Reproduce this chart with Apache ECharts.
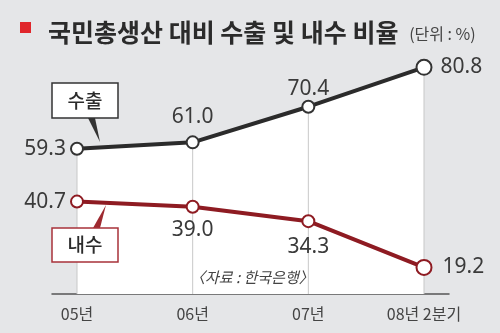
<!DOCTYPE html>
<html>
<head>
<meta charset="utf-8">
<script src="https://cdn.jsdelivr.net/npm/echarts@6/dist/echarts.min.js"></script>
<style>
  html, body { margin: 0; padding: 0; background: #e5e6e8; }
  #chart { width: 500px; height: 333px; }
</style>
</head>
<body>
<div id="chart"></div>
<script>
// 국민총생산 대비 수출·내수 비율 (단위: %)
const categories = ['05년', '06년', '07년', '08년 2분기'];
const exportRatio = [59.3, 61.0, 70.4, 80.8];   // 수출
const domesticRatio = [40.7, 39.0, 34.3, 19.2]; // 내수

const FONT_KR = '"Noto Sans CJK KR", "Noto Sans", sans-serif';
const FONT_NUM = '"Noto Sans", "DejaVu Sans", sans-serif';

// per-point label placement (position, distance)
const exportLabelPos = [['left', 4], ['top', 8], ['top', 0], ['right', 8]];
const domesticLabelPos = [['left', 4], ['bottom', 6], ['bottom', 8], ['right', 10]];

function pointItems(values, placement, color) {
  return values.map((v, i) => ({
    value: v,
    symbolSize: i === values.length - 1 ? 15 : 12,
    label: {
      show: true,
      position: placement[i][0],
      distance: placement[i][1],
      formatter: (p) => Number(p.value).toFixed(1),
      fontFamily: FONT_NUM,
      fontSize: 21,
      color: '#3a3a3a'
    },
    itemStyle: { color: '#ffffff', borderColor: color, borderWidth: 2 }
  }));
}

const chart = echarts.init(document.getElementById('chart'), null, { renderer: 'canvas' });

const option = {
  backgroundColor: '#e5e6e8',
  animation: false,
  title: {
    left: 43,
    top: 9,
    text: '{t|국민총생산 대비 수출 및 내수 비율}{u|   (단위 : %)}',
    textStyle: {
      rich: {
        t: { fontFamily: FONT_KR, fontWeight: 'bold', fontSize: 25, color: '#2b2b2b', height: 32, verticalAlign: 'middle' },
        u: { fontFamily: FONT_KR, fontWeight: 'normal', fontSize: 16, color: '#444444', height: 32, verticalAlign: 'middle', padding: [4, 0, 0, 0] }
      }
    }
  },
  grid: [
    { left: 77, right: 76, top: 40, bottom: 39 },
    { left: 52, right: 51, top: 40, bottom: 39 }
  ],
  xAxis: [
    {
      type: 'category', gridIndex: 0, data: categories, boundaryGap: false,
      axisLine: { show: false }, axisTick: { show: false }, splitLine: { show: false },
      axisLabel: { margin: 12, fontFamily: FONT_KR, fontSize: 16, color: '#444444' }
    },
    {
      type: 'value', gridIndex: 1, min: 0, max: 1,
      axisLine: { show: true, onZero: false, lineStyle: { color: '#555555', width: 1.5 } },
      axisTick: { show: false }, axisLabel: { show: false }, splitLine: { show: false }
    }
  ],
  yAxis: [
    { type: 'value', gridIndex: 0, min: 21, max: 88, show: false },
    { type: 'value', gridIndex: 0, min: 10.5, max: 93.5, show: false },
    { type: 'value', gridIndex: 1, min: 0, max: 1, show: false }
  ],
  series: [
    {
      // white field under the export line
      type: 'line', xAxisIndex: 0, yAxisIndex: 0, data: exportRatio,
      symbol: 'none', lineStyle: { width: 0 },
      areaStyle: { color: '#ffffff', opacity: 1 }, z: 1, silent: true
    },
    {
      // drop lines from each export point to the axis
      type: 'bar', xAxisIndex: 0, yAxisIndex: 0, data: exportRatio,
      barWidth: 1, itemStyle: { color: '#c8c8c8' }, z: 2, silent: true
    },
    {
      name: '수출', type: 'line', xAxisIndex: 0, yAxisIndex: 0,
      data: pointItems(exportRatio, exportLabelPos, '#333333'),
      symbol: 'circle', showAllSymbol: true,
      lineStyle: { color: '#2b2b2b', width: 4 }, z: 3
    },
    {
      name: '내수', type: 'line', xAxisIndex: 0, yAxisIndex: 1,
      data: pointItems(domesticRatio, domesticLabelPos, '#8e1b22'),
      symbol: 'circle', showAllSymbol: true,
      lineStyle: { color: '#8e1b22', width: 4 }, z: 3
    }
  ],
  graphic: [
    // title marker
    { type: 'rect', left: 20, top: 22, shape: { width: 11, height: 11 }, style: { fill: '#e0262b' } },
    // 수출 callout
    { type: 'polygon', shape: { points: [[88, 118], [95, 118], [100, 142]] }, style: { fill: '#333333' }, z: 10 },
    { type: 'rect', shape: { x: 52, y: 83, width: 66, height: 35 }, style: { fill: '#ffffff', stroke: '#333333', lineWidth: 1.5 }, z: 10 },
    { type: 'text', style: { x: 85, y: 101, text: '수출', textAlign: 'center', textVerticalAlign: 'middle', font: '500 19px "Noto Sans CJK KR"', fill: '#2b2b2b' }, z: 11 },
    // 내수 callout
    { type: 'polygon', shape: { points: [[93, 228], [100, 228], [106, 205]] }, style: { fill: '#9e2a30' }, z: 10 },
    { type: 'rect', shape: { x: 52, y: 228, width: 66, height: 34 }, style: { fill: '#ffffff', stroke: '#a8323a', lineWidth: 1.5 }, z: 10 },
    { type: 'text', style: { x: 85, y: 245, text: '내수', textAlign: 'center', textVerticalAlign: 'middle', font: '500 19px "Noto Sans CJK KR"', fill: '#2b2b2b' }, z: 11 },
    // source note
    { type: 'text', style: { x: 190, y: 277, text: '〈자료 : 한국은행〉', textVerticalAlign: 'middle', font: 'italic 15px "Noto Sans CJK KR"', fill: '#444444' }, z: 11 }
  ]
};

chart.setOption(option);
</script>
</body>
</html>
